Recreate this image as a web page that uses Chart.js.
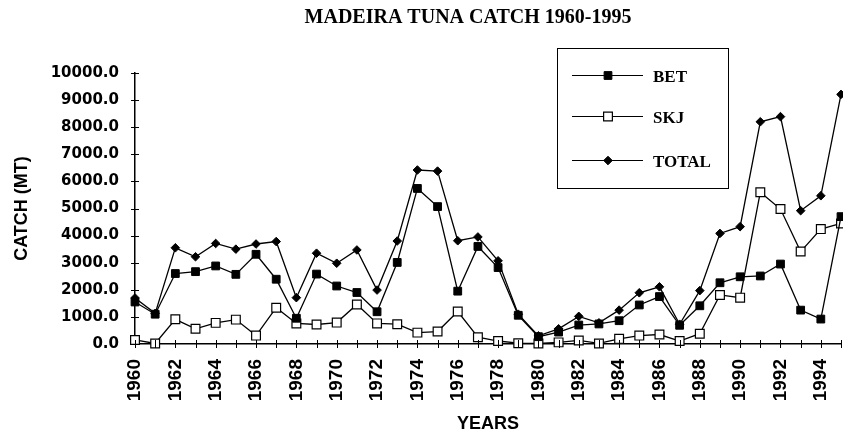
<!DOCTYPE html>
<html>
<head>
    <title>Madeira Tuna Catch 1960-1995</title>
    <script src="https://cdn.jsdelivr.net/npm/chart.js@4"></script>
    <style>
        body { margin: 0; background: #fff; }
        #wrap { width: 843px; height: 437px; }
    </style>
</head>
<body>
    <div id="wrap"><canvas id="catchChart" width="843" height="437"></canvas></div>

    <script>
        const years = ['1960', '1961', '1962', '1963', '1964', '1965', '1966', '1967', '1968', '1969',
                       '1970', '1971', '1972', '1973', '1974', '1975', '1976', '1977', '1978', '1979',
                       '1980', '1981', '1982', '1983', '1984', '1985', '1986', '1987', '1988', '1989',
                       '1990', '1991', '1992', '1993', '1994', '1995'];
        const betCatch = [1550, 1100, 2600, 2670, 2880, 2570, 3310, 2390, 950, 2580,
                          2140, 1900, 1190, 3010, 5740, 5070, 1950, 3600, 2820, 1060,
                          270, 440, 700, 740, 860, 1440, 1750, 690, 1410, 2260,
                          2480, 2510, 2950, 1250, 920, 4700];
        const skjCatch = [150, 20, 910, 560, 780, 900, 310, 1340, 760, 720,
                          790, 1460, 760, 730, 420, 460, 1200, 250, 110, 30,
                          20, 60, 130, 20, 190, 310, 350, 110, 380, 1810,
                          1710, 5600, 4980, 3410, 4240, 4450];
        const totalCatch = [1700, 1130, 3550, 3220, 3710, 3500, 3690, 3780, 1710, 3350,
                            2980, 3470, 1990, 3800, 6420, 6380, 3810, 3950, 3070, 1100,
                            300, 560, 1020, 780, 1250, 1890, 2110, 730, 1970, 4080,
                            4330, 8200, 8390, 4920, 5470, 9210];
        const yTicks = [0, 1000, 2000, 3000, 4000, 5000, 6000, 7000, 8000, 9000, 10000];

        const serif = "'Liberation Serif', 'Times New Roman', serif";

        // title drawn by hand so it can sit where the original has it
        const titlePlugin = {
            id: 'madeiraTitle',
            afterDraw(chart) {
                const ctx = chart.ctx;
                ctx.save();
                ctx.fillStyle = '#000';
                ctx.font = 'bold 20px ' + serif;
                ctx.textAlign = 'center';
                ctx.textBaseline = 'alphabetic';
                ctx.fillText('MADEIRA TUNA CATCH 1960-1995', 468, 23);
                ctx.restore();
            }
        };

        // tick marks that cross the axis lines
        const crossTicks = {
            id: 'crossTicks',
            afterDraw(chart) {
                const ctx = chart.ctx;
                const x = chart.scales.x, y = chart.scales.y;
                ctx.save();
                ctx.strokeStyle = '#000';
                ctx.lineWidth = 1;
                ctx.beginPath();
                x.ticks.forEach((t, i) => {
                    const px = Math.round(x.getPixelForTick(i)) + 0.5;
                    ctx.moveTo(px, y.bottom - 4);
                    ctx.lineTo(px, y.bottom + 4);
                });
                y.ticks.forEach((t, i) => {
                    const py = Math.round(y.getPixelForTick(i)) + 0.5;
                    ctx.moveTo(x.left - 4, py);
                    ctx.lineTo(x.left + 4, py);
                });
                ctx.stroke();
                ctx.restore();
            }
        };

        // boxed legend in the upper right like the original
        const boxLegend = {
            id: 'boxLegend',
            afterDraw(chart) {
                const ctx = chart.ctx;
                const rowsY = [75, 116, 160];
                ctx.save();
                ctx.fillStyle = '#fff';
                ctx.fillRect(557, 48, 171, 140);
                ctx.strokeStyle = '#000';
                ctx.lineWidth = 1;
                ctx.strokeRect(557.5, 48.5, 171, 140);
                chart.data.datasets.forEach((ds, i) => {
                    const ly = rowsY[i];
                    ctx.beginPath();
                    ctx.strokeStyle = '#000';
                    ctx.lineWidth = 1;
                    ctx.moveTo(572, ly + 0.5);
                    ctx.lineTo(643, ly + 0.5);
                    ctx.stroke();
                    ctx.fillStyle = ds.pointBackgroundColor;
                    ctx.strokeStyle = '#000';
                    ctx.lineWidth = ds.pointBorderWidth;
                    Chart.helpers.drawPoint(ctx, {
                        pointStyle: ds.pointStyle,
                        radius: ds.pointRadius,
                        borderWidth: ds.pointBorderWidth,
                        rotation: 0
                    }, 608, ly + 0.5);
                    ctx.fillStyle = '#000';
                    ctx.font = 'bold 17px ' + serif;
                    ctx.textAlign = 'left';
                    ctx.textBaseline = 'alphabetic';
                    ctx.fillText(ds.label, 653, ly + 6.5);
                });
                ctx.restore();
            }
        };

        const ctx = document.getElementById('catchChart').getContext('2d');
        new Chart(ctx, {
            type: 'line',
            data: {
                labels: years,
                datasets: [
                    {
                        label: 'BET',
                        data: betCatch,
                        borderColor: '#000',
                        borderWidth: 1.3,
                        pointStyle: 'rect',
                        pointRadius: 5.5,
                        pointBackgroundColor: '#000',
                        pointBorderColor: '#000',
                        pointBorderWidth: 1,
                        tension: 0,
                        clip: false
                    },
                    {
                        label: 'SKJ',
                        data: skjCatch,
                        borderColor: '#000',
                        borderWidth: 1.3,
                        pointStyle: 'rect',
                        pointRadius: 6.2,
                        pointBackgroundColor: '#fff',
                        pointBorderColor: '#000',
                        pointBorderWidth: 1.2,
                        tension: 0,
                        clip: false
                    },
                    {
                        label: 'TOTAL',
                        data: totalCatch,
                        borderColor: '#000',
                        borderWidth: 1.3,
                        pointStyle: 'rectRot',
                        pointRadius: 4.3,
                        pointBackgroundColor: '#000',
                        pointBorderColor: '#000',
                        pointBorderWidth: 1,
                        tension: 0,
                        clip: false
                    }
                ]
            },
            options: {
                responsive: false,
                animation: false,
                layout: { padding: { top: 73, right: 2, left: 0, bottom: 0 }, autoPadding: false },
                plugins: {
                    legend: { display: false },
                    tooltip: { enabled: false }
                },
                scales: {
                    x: {
                        offset: false,
                        grid: { display: true, drawOnChartArea: false, drawTicks: false },
                        border: { display: true, color: '#000', width: 1.5 },
                        ticks: {
                            autoSkip: false,
                            minRotation: 90,
                            maxRotation: 90,
                            padding: 15,
                            color: '#000',
                            font: { family: "'Liberation Sans', Arial, sans-serif", weight: 'bold', size: 19 },
                            callback: function (v, i) { return i % 2 === 0 ? years[i] : ''; }
                        },
                        title: {
                            display: true,
                            text: 'YEARS',
                            color: '#000',
                            font: { family: "'Liberation Sans', Arial, sans-serif", weight: 'bold', size: 18 },
                            padding: { top: 0, bottom: 2 }
                        },
                        afterFit(scale) {
                            scale.height = 93;
                            scale.paddingLeft = 0;
                            scale.paddingRight = 0;
                        }
                    },
                    y: {
                        min: 0,
                        max: 10000,
                        grid: { display: true, drawOnChartArea: false, drawTicks: false },
                        border: { display: true, color: '#000', width: 1.5 },
                        afterBuildTicks(scale) {
                            scale.ticks = yTicks.map(v => ({ value: v }));
                        },
                        ticks: {
                            padding: 16,
                            color: '#000',
                            font: { family: "'DejaVu Sans', sans-serif", weight: 'bold', size: 15 },
                            callback: v => Number(v).toFixed(1)
                        },
                        title: {
                            display: true,
                            text: 'CATCH (MT)',
                            color: '#000',
                            font: { family: "'Liberation Sans', Arial, sans-serif", weight: 'bold', size: 18 },
                            padding: { top: 11, bottom: 0 }
                        },
                        afterFit(scale) {
                            scale.width = 135;
                            scale.paddingTop = 0;
                            scale.paddingBottom = 0;
                        }
                    }
                }
            },
            plugins: [titlePlugin, crossTicks, boxLegend]
        });
    </script>
</body>
</html>
